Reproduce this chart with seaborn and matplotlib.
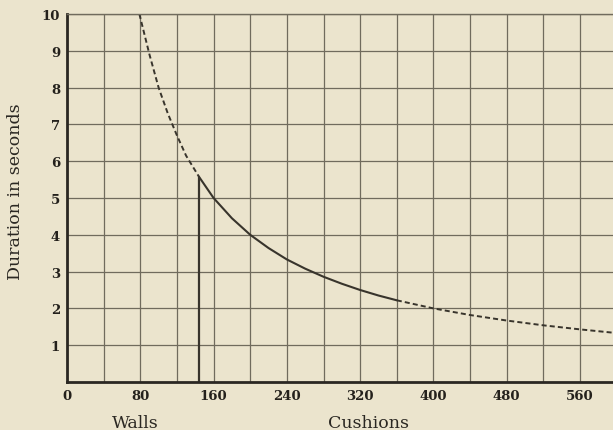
import matplotlib
matplotlib.use("Agg")
import matplotlib.pyplot as plt
import seaborn as sns
import pandas as pd
from matplotlib.ticker import MultipleLocator, FuncFormatter

# curve: duration (s) against cushions
walls_x = [79, 90, 100, 110, 120, 130, 144]
walls_y = [10.0, 8.9, 8.0, 7.3, 6.7, 6.15, 5.58]

measured_x = [144, 160, 180, 200, 220, 240, 260, 280, 300, 320, 340, 360]
measured_y = [5.58, 5.0, 4.45, 4.0, 3.64, 3.33, 3.08, 2.86, 2.67, 2.5, 2.35, 2.22]

extrap_x = [360, 400, 440, 480, 520, 560, 600]
extrap_y = [2.22, 2.0, 1.82, 1.67, 1.54, 1.43, 1.33]

marker_x = [144, 144]
marker_y = [0, 5.58]

x_major = 80
x_grid = 40
y_ticks = [1, 2, 3, 4, 5, 6, 7, 8, 9, 10]

bg = "#ebe4cd"
ink = "#38342c"
grid_col = "#706b5d"

sns.set_theme(style="white")
plt.rcParams["font.family"] = ["DejaVu Serif"]
plt.rcParams["lines.dashed_pattern"] = [2.6, 1.6]

fig = plt.figure(figsize=(6.13, 4.31), dpi=100, facecolor=bg)
ax = fig.add_axes([67 / 613, 1 - 383 / 431, 546 / 613, 368 / 431])
ax.set_facecolor(bg)

df_walls = pd.DataFrame({"x": walls_x, "y": walls_y})
df_meas = pd.DataFrame({"x": measured_x, "y": measured_y})
df_ext = pd.DataFrame({"x": extrap_x, "y": extrap_y})
df_mark = pd.DataFrame({"x": marker_x, "y": marker_y})

sns.lineplot(data=df_walls, x="x", y="y", ax=ax, color=ink, lw=1.4,
             linestyle="--", sort=False, estimator=None)
sns.lineplot(data=df_meas, x="x", y="y", ax=ax, color=ink, lw=1.5,
             sort=False, estimator=None)
sns.lineplot(data=df_ext, x="x", y="y", ax=ax, color=ink, lw=1.4,
             linestyle="--", sort=False, estimator=None)
sns.lineplot(data=df_mark, x="x", y="y", ax=ax, color=ink, lw=1.6,
             sort=False, estimator=None)

ax.set_xlim(0, 596)
ax.set_ylim(0, 10)

ax.xaxis.set_major_locator(MultipleLocator(x_grid))
ax.xaxis.set_major_formatter(FuncFormatter(
    lambda v, p: f"{int(v)}" if int(round(v)) % x_major == 0 else ""))
ax.set_yticks(y_ticks)
ax.set_yticklabels([str(t) for t in y_ticks])

ax.grid(True, color=grid_col, lw=0.9)
ax.set_axisbelow(True)
ax.tick_params(length=0, labelsize=9.5, colors="#24211c")
ax.tick_params(axis="x", pad=5)
ax.tick_params(axis="y", pad=5)
for lab in ax.get_xticklabels() + ax.get_yticklabels():
    lab.set_fontweight("bold")

ax.spines["right"].set_visible(False)
ax.spines["top"].set_color(grid_col)
ax.spines["top"].set_linewidth(1.0)
ax.spines["left"].set_color("#2a2722")
ax.spines["left"].set_linewidth(2.0)
ax.spines["bottom"].set_color("#2a2722")
ax.spines["bottom"].set_linewidth(2.0)

ax.set_xlabel("Cushions", fontsize=12.5, color="#2a2722")
ax.xaxis.set_label_coords(0.553, -0.109)
ax.xaxis.label.set_va("center")
ax.text(0.125, -0.109, "Walls", transform=ax.transAxes, fontsize=12.5,
        color="#2a2722", ha="center", va="center")
ax.set_ylabel("Duration in seconds", fontsize=12.5, color="#2a2722")
ax.yaxis.set_label_coords(-0.095, 0.519)
ax.yaxis.label.set_va("center")

fig.savefig("out.png", dpi=100, facecolor=bg)
